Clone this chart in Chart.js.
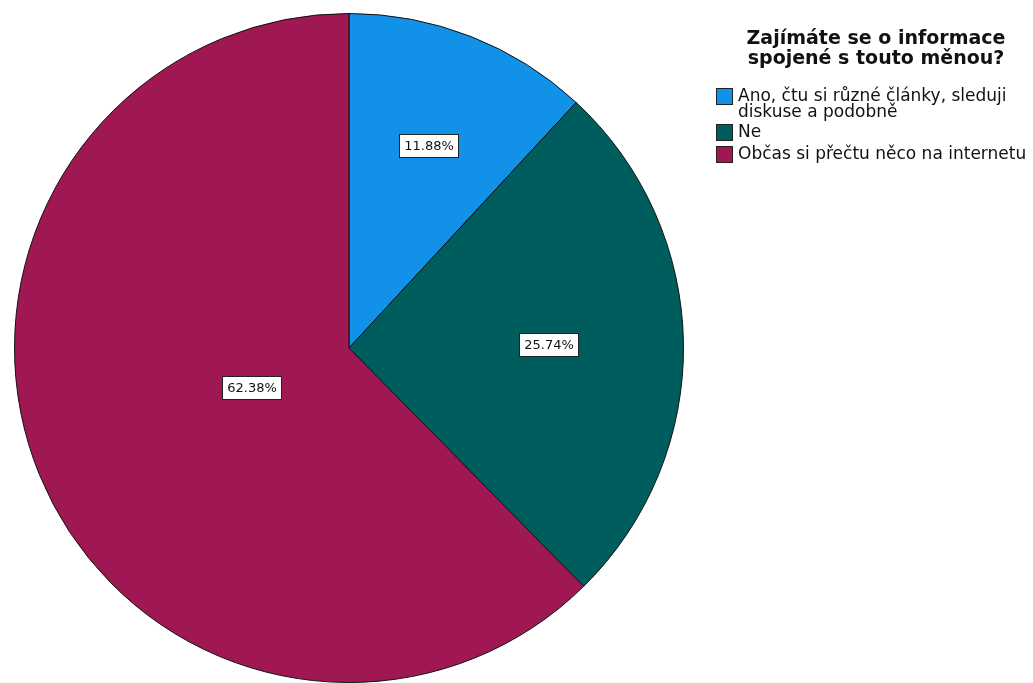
<!DOCTYPE html>
<html>
<head>
<meta charset="utf-8">
<script src="https://cdn.jsdelivr.net/npm/chart.js@4.4.1/dist/chart.umd.min.js"></script>
<style>
  html, body { margin: 0; padding: 0; background: #fff; }
  #wrap { position: relative; width: 1033px; height: 683px; overflow: hidden; }
  #pie { position: absolute; left: 0; top: 0; }
  #legend {
    position: absolute; left: 716px; top: 27px; width: 330px;
    font-family: "DejaVu Sans", sans-serif; color: #111;
  }
  #legend .title {
    font-weight: bold; font-size: 19px; line-height: 20px;
    text-align: center; width: 300px; margin-left: 10px; margin-bottom: 20px;
  }
  #legend .item { display: flex; align-items: flex-start; font-size: 17px; line-height: 16px; margin-bottom: 4px; }
  #legend .swatch {
    width: 15px; height: 15px; border: 1px solid #222; flex: none;
    margin-right: 5px; margin-top: 1px;
  }
  #legend .text { width: 300px; }
</style>
</head>
<body>
<div id="wrap">
  <canvas id="pie" width="1033" height="683"></canvas>
  <div id="legend"></div>
</div>
<script>
const legendTitle = ["Zajímáte se o informace", "spojené s touto měnou?"];
const categories = [
  "Ano, čtu si různé články, sleduji diskuse a podobně",
  "Ne",
  "Občas si přečtu něco na internetu",
];
const counts = [12, 26, 63];
const sliceColors = ["#1192e8", "#005d5d", "#9f1853"];

const total = counts.reduce((a, b) => a + b, 0);
const percentLabels = counts.map((c) => ((c / total) * 100).toFixed(2) + "%");

// label boxes at the centroid of each slice
const sliceLabels = {
  id: "sliceLabels",
  afterDatasetsDraw(chart) {
    const ctx = chart.ctx;
    const meta = chart.getDatasetMeta(0);
    ctx.save();
    ctx.font = "13px 'DejaVu Sans', sans-serif";
    ctx.textAlign = "center";
    ctx.textBaseline = "middle";
    meta.data.forEach((arc, i) => {
      const p = arc.getProps(["x", "y", "startAngle", "endAngle", "outerRadius"], true);
      const half = (p.endAngle - p.startAngle) / 2;
      const mid = p.startAngle + half;
      const d = (2 * p.outerRadius * Math.sin(half)) / (3 * half);
      const cx = p.x + Math.cos(mid) * d;
      const cy = p.y + Math.sin(mid) * d;
      const text = percentLabels[i];
      const w = Math.round(ctx.measureText(text).width + 9);
      const h = 23;
      const left = Math.round(cx - w / 2);
      const top = Math.round(cy - h / 2);
      ctx.fillStyle = "#fff";
      ctx.fillRect(left, top, w, h);
      ctx.strokeStyle = "#222";
      ctx.lineWidth = 1;
      ctx.strokeRect(left + 0.5, top + 0.5, w, h);
      ctx.fillStyle = "#111";
      ctx.fillText(text, left + w / 2 + 0.5, top + h / 2 + 1);
    });
    ctx.restore();
  },
};

const chart = new Chart(document.getElementById("pie"), {
  type: "pie",
  data: {
    labels: categories,
    datasets: [
      {
        data: counts,
        backgroundColor: sliceColors,
        borderColor: "#111",
        borderWidth: 1,
      },
    ],
  },
  options: {
    responsive: false,
    animation: false,
    layout: { padding: { left: 13, top: 13, right: 348, bottom: 0 } },
    plugins: {
      legend: { display: false },
      tooltip: { enabled: false },
    },
  },
  plugins: [sliceLabels],
});

function renderLegend() {
  const el = document.getElementById("legend");
  const items = chart.options.plugins.legend.labels.generateLabels(chart);
  el.innerHTML =
    `<div class="title">${legendTitle.join("<br>")}</div>` +
    items
      .map(
        (item) => `
        <div class="item">
          <span class="swatch" style="background:${item.fillStyle}"></span>
          <span class="text">${item.text}</span>
        </div>`
      )
      .join("");
}

renderLegend();
</script>
</body>
</html>
